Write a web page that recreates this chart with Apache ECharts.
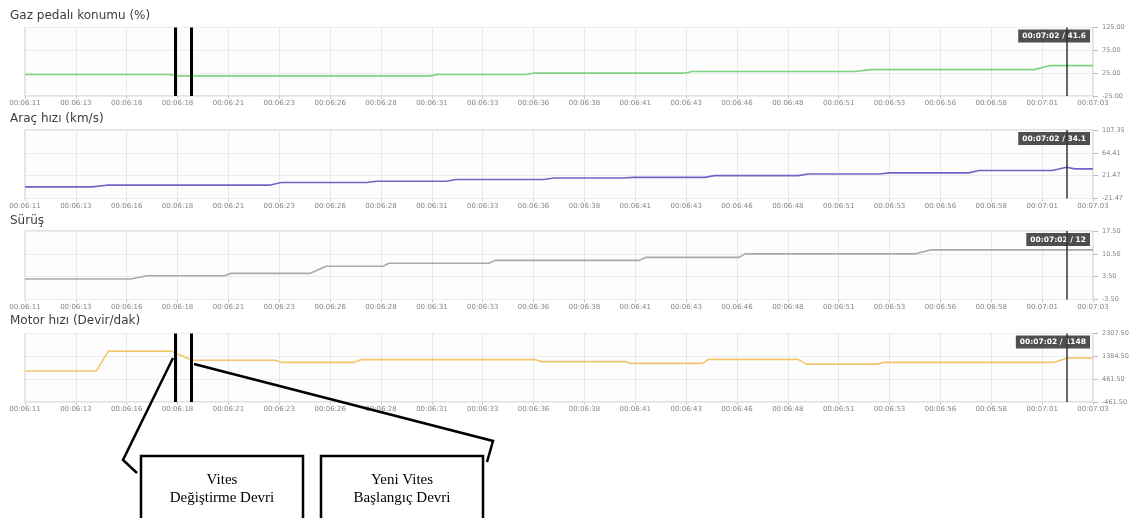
<!DOCTYPE html>
<html><head><meta charset="utf-8">
<script src="https://cdn.jsdelivr.net/npm/echarts@6/dist/echarts.min.js"></script>
<style>html,body{margin:0;padding:0;background:#fff}#c{width:1133px;height:518px}</style>
</head><body><div id="c"></div>
<script>
// ---------- data (seconds since 00:06:11) ----------
const xTickLabels = ['00:06:11','00:06:13','00:06:16','00:06:18','00:06:21','00:06:23','00:06:26','00:06:28','00:06:31','00:06:33','00:06:36','00:06:38','00:06:41','00:06:43','00:06:46','00:06:48','00:06:51','00:06:53','00:06:56','00:06:58','00:07:01','00:07:03'];
const xTickStep = 2.5;

const titles = ['Gaz pedalı konumu (%)', 'Araç hızı (km/s)', 'Sürüş', 'Motor hızı (Devir/dak)'];

const gazT = [0, 7.1, 7.5, 19.9, 20.3, 24.6, 25.0, 32.4, 32.8, 40.8, 41.6, 49.6, 50.4, 52.5];
const gazV = [22, 22, 19, 19, 22, 22, 25, 25, 28.5, 28.5, 32.7, 32.7, 41.6, 41.6];

const hizT = [0, 3.3, 4.0, 12.0, 12.6, 16.8, 17.3, 20.7, 21.2, 25.5, 26.0, 29.4, 29.9, 33.4, 33.9, 38.0, 38.5, 42.0, 42.5, 46.4, 46.9, 50.5, 51.2, 51.6, 52.5];
const hizV = [0.4, 0.4, 3.6, 3.6, 8.6, 8.6, 11.1, 11.1, 14.4, 14.4, 17.1, 17.1, 18.2, 18.2, 21.5, 21.5, 24.7, 24.7, 26.7, 26.7, 31.1, 31.1, 37.4, 34.3, 34.3];

const surusT = [0, 5.2, 6.0, 9.8, 10.1, 14.0, 14.8, 17.6, 17.9, 22.8, 23.1, 30.2, 30.5, 35.1, 35.4, 43.8, 44.5, 52.5];
const surusV = [2.8, 2.8, 3.8, 3.8, 4.5, 4.5, 6.7, 6.7, 7.6, 7.6, 8.5, 8.5, 9.4, 9.4, 10.5, 10.5, 11.7, 11.7];

const motorT = [0, 3.5, 4.1, 7.2, 8.2, 12.3, 12.6, 16.2, 16.5, 25.1, 25.4, 29.5, 29.8, 33.3, 33.6, 38.0, 38.4, 41.9, 42.2, 50.6, 51.2, 52.5];
const motorV = [789, 789, 1596, 1596, 1226, 1226, 1141, 1141, 1250, 1250, 1171, 1171, 1099, 1099, 1260, 1260, 1069, 1069, 1141, 1141, 1311, 1311];

const yTicks = [
  [-25, 25, 75, 125],
  [-21.47, 21.47, 64.42, 107.36],
  [-3.5, 3.5, 10.5, 17.5],
  [-461.5, 461.5, 1384.5, 2307.5]
];

const cursorT = 51.2;
const cursorLabels = ['00:07:02 / 41.6', '00:07:02 / 34.1', '00:07:02 / 12', '00:07:02 / 1148'];
const gearChangeT = [7.37, 8.16];

// ---------- layout / style ----------
const colors = ['#7fd27f', '#6e66c6', '#a9a9a9', '#f3c66e'];
const gridTops = [27.5, 130, 231, 333.5];
const gridH = 68.5;
const titleY = [16, 119, 221, 321];

const seriesT = [gazT, hizT, surusT, motorT];
const seriesV = [gazV, hizV, surusV, motorV];

const grids = [], xAxes = [], yAxes = [], series = [], graphics = [];
for (let i = 0; i < 4; i++) {
  grids.push({left: 25, right: 40, top: gridTops[i], height: gridH, show: true,
    backgroundColor: '#fdfdfd', borderColor: '#c6c6c6', borderWidth: 1});
  xAxes.push({type: 'value', gridIndex: i, min: 0, max: xTickStep * (xTickLabels.length - 1), interval: xTickStep,
    position: 'bottom',
    axisLine: {show: false, onZero: false}, axisTick: {show: true, length: 3, lineStyle: {color: '#ccc'}},
    axisLabel: {fontSize: 7, color: '#858585', margin: 4, fontFamily: 'DejaVu Sans',
      formatter: v => xTickLabels[Math.round(v / xTickStep)] || ''},
    splitLine: {show: true, lineStyle: {color: '#e8e8e8', width: 1}}});
  const t = yTicks[i];
  yAxes.push({type: 'value', gridIndex: i, position: 'right', min: t[0], max: t[t.length - 1], interval: t[1] - t[0],
    axisLine: {show: false, onZero: false}, axisTick: {show: true, length: 5, lineStyle: {color: '#bbb'}},
    axisLabel: {fontSize: 6.5, color: '#858585', margin: 9, fontFamily: 'DejaVu Sans', formatter: v => v.toFixed(2)},
    splitLine: {show: true, lineStyle: {color: '#ececec'}}});
  const mlData = [{xAxis: cursorT, lineStyle: {color: '#333', width: 1.5, type: 'solid'}}];
  if (i === 0 || i === 3) {
    gearChangeT.forEach(g => mlData.push({xAxis: g, lineStyle: {color: '#000', width: 3, type: 'solid'}}));
  }
  series.push({type: 'line', xAxisIndex: i, yAxisIndex: i, showSymbol: false, silent: true,
    lineStyle: {color: colors[i], width: 1.6}, itemStyle: {color: colors[i]},
    data: seriesT[i].map((tt, k) => [tt, seriesV[i][k]]),
    markLine: {silent: true, symbol: ['none', 'none'], label: {show: false}, animation: false, data: mlData}});
  graphics.push({type: 'text', x: 10, y: titleY[i], z: 5,
    style: {text: titles[i], fill: '#3c3c3c', font: '12px "DejaVu Sans"', verticalAlign: 'middle'}});
  graphics.push({type: 'text', right: 43, top: gridTops[i] + 2, z: 1,
    style: {text: cursorLabels[i], fill: '#fff', font: 'bold 7.5px "DejaVu Sans"', backgroundColor: '#4f4f4f',
      padding: [3, 4, 2, 4]}});
}

// callout annotations
const serif = '15px "Liberation Serif"';
graphics.push(
  {type: 'polyline', z: 100, shape: {points: [[173, 358], [123, 460], [137, 473]]}, style: {stroke: '#000', lineWidth: 2.5, fill: null}},
  {type: 'polyline', z: 100, shape: {points: [[194, 364], [493, 441], [487, 462]]}, style: {stroke: '#000', lineWidth: 2.5, fill: null}},
  {type: 'rect', z: 100, shape: {x: 141, y: 456, width: 162, height: 80}, style: {stroke: '#000', lineWidth: 2.5, fill: '#fff'}},
  {type: 'rect', z: 100, shape: {x: 321, y: 456, width: 162, height: 80}, style: {stroke: '#000', lineWidth: 2.5, fill: '#fff'}},
  {type: 'text', z: 101, x: 222, y: 480, style: {text: 'Vites', font: serif, fill: '#000', align: 'center', verticalAlign: 'middle'}},
  {type: 'text', z: 101, x: 222, y: 498, style: {text: 'Değiştirme Devri', font: serif, fill: '#000', align: 'center', verticalAlign: 'middle'}},
  {type: 'text', z: 101, x: 402, y: 480, style: {text: 'Yeni Vites', font: serif, fill: '#000', align: 'center', verticalAlign: 'middle'}},
  {type: 'text', z: 101, x: 402, y: 498, style: {text: 'Başlangıç Devri', font: serif, fill: '#000', align: 'center', verticalAlign: 'middle'}}
);

const chart = echarts.init(document.getElementById('c'), null, {renderer: 'canvas'});
chart.setOption({
  animation: false,
  backgroundColor: '#fff',
  grid: grids, xAxis: xAxes, yAxis: yAxes, series: series,
  graphic: graphics
});
</script></body></html>
